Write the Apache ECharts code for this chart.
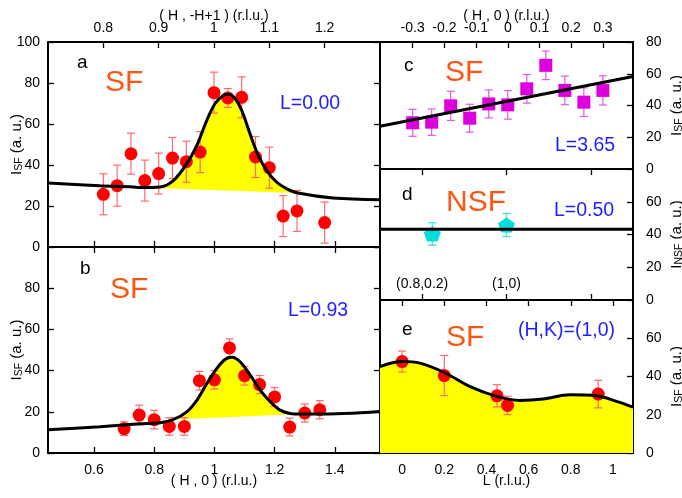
<!DOCTYPE html>
<html><head><meta charset="utf-8">
<script src="https://cdn.jsdelivr.net/npm/echarts@6/dist/echarts.min.js"></script>
<style>html,body{margin:0;padding:0;background:#fff}#c{width:682px;height:498px}</style>
</head><body><div id="c"></div><script>
// ---------- DATA ----------
// Panel a : (H,-H+1) scan, L = 0.00, spin-flip
const aH   = [0.800,0.825,0.850,0.875,0.900,0.925,0.950,0.975,1.000,1.025,1.050,1.075,1.100,1.125,1.150,1.200];
const aI   = [25.7,29.9,45.5,32.4,35.8,43.4,41.6,46.3,75.3,72.7,73.0,43.9,38.7,15.1,17.6,11.9];
const aErr = [10,10,10,10,10,10,10,10,10,4.6,10,10,10,10,10,10];
const aFitH = [0.700,0.794,0.854,0.866,0.903,0.927,0.951,0.969,0.987,1.002,1.017,1.026,1.038,1.050,1.065,1.080,1.095,1.113,1.131,1.152,1.215,1.300];
const aFitI = [31.2,29.9,29.3,29.0,29.3,32.5,40.7,49.6,61.8,70.0,74.0,74.5,72.4,66.7,55.3,44.7,37.4,31.7,28.5,26.3,23.9,23.1];
const aFillRange = [0.866,1.152];

// Panel b : (H,0) scan, L = 0.93, spin-flip
const bH   = [0.70,0.75,0.80,0.85,0.90,0.95,1.00,1.05,1.10,1.15,1.20,1.25,1.30,1.35];
const bI   = [11.8,18.4,16.2,12.9,12.9,35.1,35.5,51.0,37.5,33.2,27.2,12.6,19.4,21.0];
const bErr = [3.3,4.8,4.5,4.3,4.3,4.5,4.5,4.4,4.5,4.4,4.6,4.3,4.4,4.4];
const bFitH = [0.447,0.620,0.753,0.820,0.864,0.908,0.942,0.975,1.008,1.036,1.058,1.085,1.119,1.152,1.185,1.218,1.251,1.285,1.341,1.550];
const bFitI = [11.3,12.8,14.2,14.7,16.3,20.0,25.7,33.8,41.1,45.5,46.5,44.3,37.8,30.5,24.9,20.8,19.2,18.9,18.9,20.2];
const bFillRange = [0.864,1.285];

// Panel c : (H,0) scan, L = 3.65, spin-flip
const cH   = [-0.30,-0.24,-0.18,-0.12,-0.06,0.00,0.06,0.12,0.18,0.24,0.30];
const cI   = [29.1,29.5,39.8,32.0,41.0,40.4,50.5,65.3,49.5,42.1,49.5];
const cErr = [8.5,8.3,9.2,8.8,8.8,9.0,9.0,9.0,9.0,9.0,9.2];
const cFitH = [-0.403,0.395];
const cFitI = [26.9,58.3];

// Panel d : non-spin-flip, L = 0.50
const dLabels = ['(0.8,0.2)','(1,0)'];
const dPos = [0.12,1.0];
const dI   = [40.3,45.8];
const dErr = [6.9,7.1];
const dFitX = [-0.5,2.5];
const dFitI = [43.2,43.2];

// Panel e : L scan at (H,K)=(1,0), spin-flip
const eL   = [0,0.2,0.45,0.5,0.93];
const eI   = [47.8,40.5,29.9,24.9,30.8];
const eErr = [5.5,10.5,5.8,4.8,7.2];
const eFitL = [-0.105,0,0.084,0.2,0.32,0.448,0.558,0.669,0.796,0.922,1.017,1.095];
const eFitI = [45.2,47.8,47.0,42.1,34.8,29.6,27.5,28.2,30.4,29.9,27.0,24.0];

// tick values
const topATicks = [0.8,0.9,1.0,1.1,1.2];
const hTicks = [0.6,0.8,1.0,1.2,1.4];
const cTicks = [-0.3,-0.2,-0.1,0,0.1,0.2,0.3];
const dTicks = [0,1,2];
const lTicks = [0,0.2,0.4,0.6,0.8,1.0];

// ---------- STYLE ----------
const FONT = "'Liberation Sans', Arial, Helvetica, sans-serif";
const BLACK = '#000';
const ORANGE = '#ff5511';
const BLUE = '#1f1fff';
const AX_LINE = {show:true, onZero:false, lineStyle:{color:BLACK, width:2}};
const TICK_LS = {color:BLACK, width:1.3};
const RICH = {
  i:{fontSize:15, fontFamily:FONT, color:BLACK},
  s:{fontSize:10.5, fontFamily:FONT, color:BLACK, padding:[6,0,0,0]},
  t:{fontSize:15, fontFamily:FONT, color:BLACK}
};

function xAx(o){
  return {
    type:'value', gridIndex:o.grid, position:o.pos, min:o.min, max:o.max,
    axisLine:AX_LINE,
    axisTick:{show:!!o.ticks, inside:true, length:6, customValues:o.ticks, lineStyle:TICK_LS},
    axisLabel:{show:!!o.labels, customValues:o.labels, inside:!!o.inside, margin:(o.margin!=null?o.margin:8),
      color:BLACK, fontSize:14, fontFamily:FONT, formatter:o.fmt},
    splitLine:{show:false},
    name:o.name||'', nameLocation:'middle', nameGap:o.gap||20, nameMoveOverlap:false,
    nameTextStyle:{color:BLACK, fontSize:14, fontFamily:FONT}
  };
}
function yAx(o){
  return {
    type:'value', gridIndex:o.grid, position:o.pos, min:0, max:o.max, interval:20,
    axisLine:AX_LINE,
    axisTick:{show:o.ticks!==false, inside:true, length:6, lineStyle:TICK_LS},
    axisLabel:{show:!!o.labels, showMaxLabel:o.hideMax?false:true, showMinLabel:true, margin:o.margin||8,
      color:BLACK, fontSize:14, fontFamily:FONT},
    splitLine:{show:false},
    name:o.sub?('{i|I}{s|'+o.sub+'}{t| (a. u.)}'):'',
    nameLocation:'middle', nameRotate:90, nameGap:o.gap||20, nameMoveOverlap:false,
    nameTextStyle:{color:BLACK, fontFamily:FONT, rich:RICH}
  };
}

const xAxes = [
  xAx({grid:0,pos:'top',min:0.70,max:1.30,ticks:topATicks,labels:topATicks,name:'( H , -H+1 ) (r.l.u.)',gap:19,margin:7}), //0
  xAx({grid:0,pos:'bottom',min:0.447,max:1.55,ticks:hTicks}), //1
  xAx({grid:1,pos:'top',min:0.447,max:1.55,ticks:hTicks}), //2
  xAx({grid:1,pos:'bottom',min:0.447,max:1.55,ticks:hTicks,labels:hTicks,name:'( H , 0 ) (r.l.u.)',gap:21,margin:10}), //3
  xAx({grid:2,pos:'top',min:-0.403,max:0.395,ticks:cTicks,labels:cTicks,name:'( H , 0 ) (r.l.u.)',gap:19,margin:7}), //4
  xAx({grid:2,pos:'bottom',min:-0.403,max:0.395}), //5
  xAx({grid:3,pos:'top',min:-0.5,max:2.5,ticks:dTicks}), //6
  xAx({grid:3,pos:'bottom',min:-0.5,max:2.5,ticks:dTicks,labels:[0,1],inside:true,margin:9,
       fmt:function(v){return dLabels[Math.round(v)]||'';}}), //7
  xAx({grid:4,pos:'top',min:-0.105,max:1.095,ticks:lTicks}), //8
  xAx({grid:4,pos:'bottom',min:-0.105,max:1.095,ticks:lTicks,labels:lTicks,name:'L (r.l.u.)',gap:21,margin:10}) //9
];
const yAxes = [
  yAx({grid:0,pos:'left',max:100,labels:true,sub:'SF',gap:23,margin:8}), //0
  yAx({grid:0,pos:'right',max:100}), //1
  yAx({grid:1,pos:'left',max:100,labels:true,hideMax:true,sub:'SF',gap:23,margin:8}), //2
  yAx({grid:1,pos:'right',max:100}), //3
  yAx({grid:2,pos:'left',max:80,ticks:false}), //4
  yAx({grid:2,pos:'right',max:80,labels:true,sub:'SF',gap:35,margin:13}), //5
  yAx({grid:3,pos:'left',max:80,ticks:false}), //6
  yAx({grid:3,pos:'right',max:80,labels:true,hideMax:true,sub:'NSF',gap:35,margin:13}), //7
  yAx({grid:4,pos:'left',max:80,ticks:false}), //8
  yAx({grid:4,pos:'right',max:80,labels:true,hideMax:true,sub:'SF',gap:35,margin:13}) //9
];

function zip(xs,ys){return xs.map(function(x,i){return [x,ys[i]];});}

function errSeries(xs,ys,es,xi,yi,color){
  return {type:'custom', xAxisIndex:xi, yAxisIndex:yi, z:2, silent:true,
    data: xs.map(function(x,i){return [x, ys[i]-es[i], ys[i]+es[i]];}),
    encode:{x:0, y:[1,2]},
    renderItem:function(params, api){
      var x=api.value(0), p1=api.coord([x,api.value(1)]), p2=api.coord([x,api.value(2)]), w=4;
      var st={stroke:color, lineWidth:1.2};
      return {type:'group', children:[
        {type:'line', shape:{x1:p1[0],y1:p1[1],x2:p2[0],y2:p2[1]}, style:st},
        {type:'line', shape:{x1:p1[0]-w,y1:p1[1],x2:p1[0]+w,y2:p1[1]}, style:st},
        {type:'line', shape:{x1:p2[0]-w,y1:p2[1],x2:p2[0]+w,y2:p2[1]}, style:st}
      ]};
    }};
}
function fillSeries(xs,ys,range,xi,yi){
  var pts = zip(xs,ys).filter(function(p){return p[0]>=range[0] && p[0]<=range[1];});
  return {type:'custom', xAxisIndex:xi, yAxisIndex:yi, z:1, silent:true,
    data:[pts[0]], encode:{x:0,y:1},
    renderItem:function(params, api){
      return {type:'polygon', shape:{points:pts.map(function(p){return api.coord(p);})}, style:{fill:'#ffff00'}};
    }};
}
function fitSeries(xs,ys,xi,yi,extra){
  return Object.assign({type:'line', xAxisIndex:xi, yAxisIndex:yi, z:5, silent:true,
    data:zip(xs,ys), symbol:'none', smooth:0.35, lineStyle:{color:BLACK, width:3}}, extra||{});
}
function ptSeries(xs,ys,xi,yi,symbol,size,color){
  return {type:'scatter', xAxisIndex:xi, yAxisIndex:yi, z:4, silent:true,
    data:zip(xs,ys), symbol:symbol, symbolSize:size, itemStyle:{color:color, opacity:1}};
}
const PENTAGON = 'path://M0,-10L9.51,-3.09L5.88,8.09L-5.88,8.09L-9.51,-3.09Z';

const series = [
  fillSeries(aFitH,aFitI,aFillRange,0,0),
  errSeries(aH,aI,aErr,0,0,'#ff6a6a'),
  ptSeries(aH,aI,0,0,'circle',13,'#ff0000'),
  fitSeries(aFitH,aFitI,0,0),

  fillSeries(bFitH,bFitI,bFillRange,3,2),
  errSeries(bH,bI,bErr,3,2,'#ff6a6a'),
  ptSeries(bH,bI,3,2,'circle',13,'#ff0000'),
  fitSeries(bFitH,bFitI,3,2),

  errSeries(cH,cI,cErr,4,5,'#e05ae0'),
  ptSeries(cH,cI,4,5,'rect',13,'#dd00dd'),
  fitSeries(cFitH,cFitI,4,5,{smooth:false}),

  errSeries(dPos,dI,dErr,7,7,'#3adede'),
  ptSeries(dPos,dI,7,7,PENTAGON,[17,15],'#00dddd'),
  fitSeries(dFitX,dFitI,7,7,{smooth:false}),

  fitSeries(eFitL,eFitI,9,9,{z:1, lineStyle:{width:0,opacity:0}, areaStyle:{color:'#ffff00', opacity:1}}),
  errSeries(eL,eI,eErr,9,9,'#ff6a6a'),
  ptSeries(eL,eI,9,9,'circle',13,'#ff0000'),
  fitSeries(eFitL,eFitI,9,9,{z:5})
];

// panel annotations: [text, left x, baseline y, size, color]
const notes = [
  ['a',77,69,19,BLACK], ['SF',105,93,30,ORANGE], ['L=0.00',280,110,19.5,BLUE],
  ['b',80,275,19,BLACK], ['SF',110,300,30,ORANGE], ['L=0.93',288,317,19.5,BLUE],
  ['c',404,72,19,BLACK], ['SF',445,83,30,ORANGE], ['L=3.65',555,152,19.5,BLUE],
  ['d',402,201,19,BLACK], ['NSF',446,213,30,ORANGE], ['L=0.50',554,217,19.5,BLUE],
  ['e',402,336,19,BLACK], ['SF',446,348,30,ORANGE], ['(H,K)=(1,0)',518,337,19.5,BLUE]
];
const graphic = notes.map(function(n){
  return {type:'text', z:10, silent:true, style:{text:n[0], x:n[1], y:n[2]-0.34*n[3],
    font:n[3]+'px '+FONT, fill:n[4], textAlign:'left', textVerticalAlign:'middle'}};
});

const chart = echarts.init(document.getElementById('c'), null, {renderer:'canvas'});
chart.setOption({
  animation:false,
  backgroundColor:'#fff',
  grid:[
    {left:48, top:42, width:332, height:205, outerBoundsMode:'none'},
    {left:48, top:247, width:332, height:206, outerBoundsMode:'none'},
    {left:380, top:42, width:253, height:127, outerBoundsMode:'none'},
    {left:380, top:169, width:253, height:131, outerBoundsMode:'none'},
    {left:380, top:300, width:253, height:153, outerBoundsMode:'none'}
  ],
  xAxis:xAxes, yAxis:yAxes, series:series, graphic:graphic
});
</script></body></html>
